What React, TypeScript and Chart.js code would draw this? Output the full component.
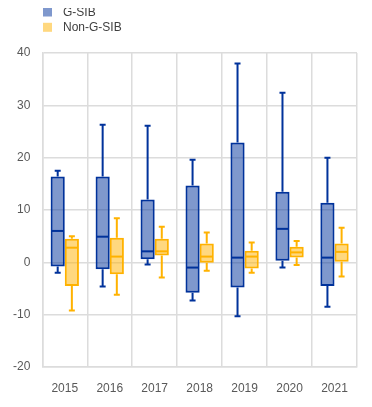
import React, { useEffect, useRef } from 'react';
import { Chart, registerables } from 'chart.js';

Chart.register(...registerables);

const years = ['2015', '2016', '2017', '2018', '2019', '2020', '2021'];

const gsibMin = [-2.0, -4.6, -0.4, -7.3, -10.3, -1.0, -8.5];
const gsibQ1 = [-0.8, -1.3, 0.6, -5.8, -4.8, 0.3, -4.5];
const gsibMedian = [6.0, 4.9, 2.1, -1.0, 0.9, 6.4, 0.9];
const gsibQ3 = [16.4, 16.4, 12.0, 14.7, 22.9, 13.5, 11.4];
const gsibMax = [17.5, 26.3, 26.1, 19.6, 38.0, 32.4, 20.0];

const nonMin = [-9.2, -6.2, -2.9, -1.6, -2.0, -0.5, -2.7];
const nonQ1 = [-4.5, -2.3, 1.3, -0.1, -1.2, 0.9, 0.1];
const nonMedian = [2.8, 1.1, 2.1, 1.1, 1.1, 1.9, 2.0];
const nonQ3 = [4.5, 4.7, 4.5, 3.6, 2.2, 3.0, 3.6];
const nonMax = [5.0, 8.4, 6.8, 5.7, 3.8, 4.1, 6.6];

const yMin = -20;
const yMax = 40;
const yStep = 10;

const FONT = "'Liberation Sans', Arial, sans-serif";
const GRID = '#dcdcdc';

const whiskerPlugin = {
  id: 'boxWhiskers',
  afterDatasetsDraw(chart: any) {
    const { ctx } = chart;
    const yScale = chart.scales.y;
    chart.data.datasets.forEach((ds: any, di: number) => {
      const meta = chart.getDatasetMeta(di);
      if (meta.hidden) return;
      meta.data.forEach((bar: any, i: number) => {
        const { x, width } = bar.getProps(['x', 'width'], true);
        const left = x - width / 2;
        const right = x + width / 2;
        const [q1, q3] = ds.data[i];
        const pMin = yScale.getPixelForValue(ds.whiskerMin[i]);
        const pMax = yScale.getPixelForValue(ds.whiskerMax[i]);
        const pQ1 = yScale.getPixelForValue(q1);
        const pQ3 = yScale.getPixelForValue(q3);
        const pMed = yScale.getPixelForValue(ds.median[i]);
        const cap = 3;
        ctx.save();
        ctx.strokeStyle = ds.borderColor;
        ctx.lineWidth = 2;
        ctx.beginPath();
        ctx.moveTo(x, pQ3);
        ctx.lineTo(x, pMax);
        ctx.moveTo(x, pQ1);
        ctx.lineTo(x, pMin);
        ctx.moveTo(x - cap, pMax);
        ctx.lineTo(x + cap, pMax);
        ctx.moveTo(x - cap, pMin);
        ctx.lineTo(x + cap, pMin);
        ctx.stroke();
        ctx.beginPath();
        ctx.moveTo(left + 1, pMed);
        ctx.lineTo(right - 1, pMed);
        ctx.stroke();
        ctx.restore();
      });
    });
  },
};

const legendPlugin = {
  id: 'stackedLegend',
  afterDraw(chart: any) {
    const { ctx } = chart;
    ctx.save();
    chart.data.datasets.forEach((ds: any, i: number) => {
      const cy = 12 + i * 15.3;
      ctx.fillStyle = ds.backgroundColor;
      ctx.fillRect(35, cy - 4.5, 9, 9);
      ctx.fillStyle = '#404040';
      ctx.font = `12px ${FONT}`;
      ctx.textBaseline = 'middle';
      ctx.textAlign = 'left';
      ctx.fillText(ds.label, 55, cy + 0.5);
    });
    ctx.restore();
  },
};

export default function App() {
  const canvasRef = useRef<HTMLCanvasElement | null>(null);

  useEffect(() => {
    if (!canvasRef.current) return;
    const chart = new Chart(canvasRef.current, {
      type: 'bar',
      data: {
        labels: years,
        datasets: [
          {
            label: 'G-SIB',
            data: years.map((_, i) => [gsibQ1[i], gsibQ3[i]]),
            backgroundColor: 'rgba(0, 50, 155, 0.5)',
            borderColor: '#00329b',
            borderWidth: 2,
            borderSkipped: false,
            whiskerMin: gsibMin,
            whiskerMax: gsibMax,
            median: gsibMedian,
          } as any,
          {
            label: 'Non-G-SIB',
            data: years.map((_, i) => [nonQ1[i], nonQ3[i]]),
            backgroundColor: 'rgba(255, 178, 0, 0.5)',
            borderColor: '#ffb200',
            borderWidth: 2,
            borderSkipped: false,
            whiskerMin: nonMin,
            whiskerMax: nonMax,
            median: nonMedian,
          } as any,
        ],
      },
      options: {
        animation: false,
        responsive: true,
        maintainAspectRatio: false,
        layout: { padding: { top: 53, left: 4, right: 7, bottom: 3.6 } },
        datasets: {
          bar: { categoryPercentage: 0.63, barPercentage: 1.0 },
        },
        plugins: {
          legend: { display: false },
          tooltip: { enabled: false },
        },
        scales: {
          x: {
            grid: { color: GRID, lineWidth: 1.5, drawTicks: false, offset: true },
            border: { color: GRID, width: 1.5 },
            ticks: { padding: 14, color: '#595959', font: { family: FONT, size: 12 } },
            afterFit(scale: any) {
              scale.height = 28.4;
            },
          },
          y: {
            min: yMin,
            max: yMax,
            grid: { color: GRID, lineWidth: 1.5, drawTicks: false },
            border: { color: GRID, width: 1.5 },
            ticks: { stepSize: yStep, padding: 12, color: '#595959', font: { family: FONT, size: 12 } },
            afterFit(scale: any) {
              scale.width = 30.3;
            },
          },
        },
      },
      plugins: [whiskerPlugin, legendPlugin],
    });
    return () => chart.destroy();
  }, []);

  return (
    <div style={{ position: 'relative', width: '100%', height: 399, marginTop: -8 }}>
      <canvas ref={canvasRef} />
    </div>
  );
}
